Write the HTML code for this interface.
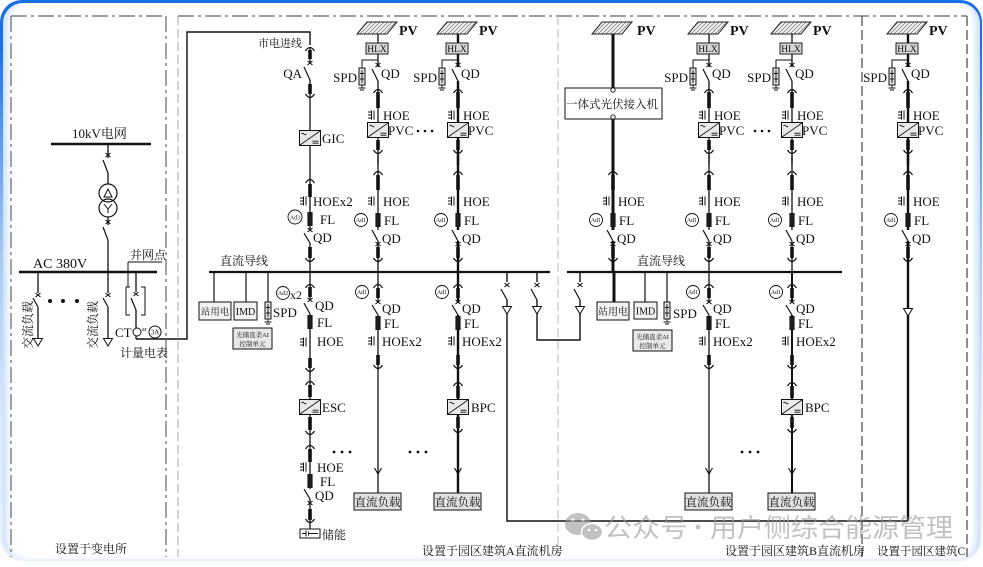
<!DOCTYPE html>
<html><head><meta charset="utf-8"><title>diagram</title>
<style>
html,body{margin:0;padding:0;background:#fff}
body{width:983px;height:567px;position:relative;overflow:hidden}
.card{position:absolute;left:0;top:0;width:982px;height:561px;border-radius:22px;background:linear-gradient(180deg,#1b6fe4 0,#1b6fe4 45px,#4f93ec 120px,#a9cbf6 260px,#d9e8fb 420px,#eaf2fd 561px)}
.inner{position:absolute;left:2.5px;top:3px;right:2.5px;bottom:2px;border-radius:20px;background:#fff;box-shadow:inset 8px 0 8px -5px rgba(150,190,240,.6),inset -8px 0 8px -5px rgba(150,190,240,.6)}
svg{position:absolute;left:0;top:0}
.t{font-family:"Liberation Serif",serif;font-size:13px;fill:#111}
.c{font-family:"Liberation Serif","Noto Serif CJK SC",serif;font-size:12px;fill:#111}
</style></head><body>
<div class="card"><div class="inner"></div></div>
<svg width="983" height="567" viewBox="0 0 983 567">
<defs>
<pattern id="hatch" width="4" height="4" patternUnits="userSpaceOnUse"><rect width="4" height="4" fill="#ececec"/><path d="M0,4 L4,0" stroke="#666" stroke-width="0.6"/></pattern>
<path id="cap" d="M-4.5,3 Q0,-4 4.5,3" fill="none" stroke="#111" stroke-width="1.2"/>
<path id="cup" d="M-4.5,-3 Q0,4 4.5,-3" fill="none" stroke="#111" stroke-width="1.2"/>
<path id="xm" d="M-2.5,-2 L2.5,2 M-2.5,2 L2.5,-2" fill="none" stroke="#111" stroke-width="1.1"/>
<path id="hoe" d="M-10,-3 H-6.5 M-10,0 H-6.5 M-10,3 H-6.5 M-6.5,-4.5 V4.5 M-4,-4.5 V4.5" fill="none" stroke="#111" stroke-width="1"/>
<rect id="fl" x="-2.6" y="-7" width="5.2" height="14" fill="#1c1c1c"/>
<g id="conv"><rect x="-10.5" y="-7.5" width="21" height="15" fill="#e9e9e9" stroke="#111" stroke-width="1"/><path d="M-10,7 L10,-7 M-8.5,-4 q1.2,-1.6 2.4,0 q1.2,1.6 2.4,0 M2.5,3.2 h6 M2.5,5.2 h6" fill="none" stroke="#111" stroke-width="0.8"/></g>
<g id="spd"><rect x="-3" y="0" width="6" height="17" fill="#e4e4e4" stroke="#111" stroke-width="1"/><path d="M0,2 V15 M-2,5.5 H2 M-2,11 H2 M0,17 V20 M-3.5,20 H3.5 M-2,22 H2" fill="none" stroke="#111" stroke-width="0.9"/></g>
<path id="arr" d="M-3.5,-6 L0,0 L3.5,-6" fill="none" stroke="#111" stroke-width="1.1"/>
<path id="tri" d="M-4.5,-3.5 H4.5 L0,4 Z" fill="#fff" stroke="#111" stroke-width="1"/>

<g id="pvTop">
 <path d="M0,34 V43 M0,54 V67 M0,81 V165" fill="none" stroke="#111"/>
 <path d="M0,92 V108 M0,140 V150" fill="none" stroke="#111" stroke-width="3.6"/>
 <polygon points="-21,34 9,34 19,22 -11,22" fill="url(#hatch)" stroke="#222" stroke-width="1"/>
 <text x="21" y="35" font-family="'Liberation Serif',serif" font-size="14" font-weight="bold" fill="#111">PV</text>
 <rect x="-12" y="43" width="22" height="11" fill="#d6d6d6" stroke="#222" stroke-width="1"/>
 <text x="-1" y="52" font-family="'Liberation Serif',serif" font-size="9.5" text-anchor="middle" fill="#111">HLX</text>
 <path d="M0,60 H-16 V68" fill="none" stroke="#111" stroke-width="1"/>
 <use href="#spd" x="-16" y="68"/>
 <text x="-21" y="82" font-family="'Liberation Serif',serif" font-size="13" text-anchor="end" fill="#111">SPD</text>
 <use href="#xm" x="0" y="65"/>
 <path d="M-6,69 L0,81" fill="none" stroke="#111" stroke-width="1.2"/>
 <text x="3" y="78" font-family="'Liberation Serif',serif" font-size="13" fill="#111">QD</text>
 <use href="#cap" x="0" y="90"/>
 <use href="#hoe" x="0" y="115"/>
 <text x="5" y="120" font-family="'Liberation Serif',serif" font-size="13" fill="#111">HOE</text>
 <use href="#conv" x="0" y="130"/>
 <text x="10" y="135" font-family="'Liberation Serif',serif" font-size="13" fill="#111">PVC</text>
 <use href="#cup" x="0" y="153"/>
</g>

<g id="low">
 <path d="M0,155 V230 M0,241 V272" fill="none" stroke="#111"/>
 <path d="M0,175 V190 M0,247 V258" fill="none" stroke="#111" stroke-width="3.6"/>
 <use href="#cap" x="0" y="172"/>
 <use href="#hoe" x="0" y="201"/>
 <text x="5" y="206" font-family="'Liberation Serif',serif" font-size="13" fill="#111">HOE</text>
 <use href="#fl" x="0" y="220"/>
 <text x="6" y="225" font-family="'Liberation Serif',serif" font-size="13" fill="#111">FL</text>
 <circle cx="-17" cy="220" r="6.5" fill="#fff" stroke="#111" stroke-width="0.9"/>
 <text x="-17" y="222.2" font-family="'Liberation Serif',serif" font-size="6" text-anchor="middle" fill="#111">Ad1</text>
 <path d="M-6,230 L0,241" fill="none" stroke="#111" stroke-width="1.2"/>
 <use href="#xm" x="0" y="244"/>
 <text x="4" y="243" font-family="'Liberation Serif',serif" font-size="13" fill="#111">QD</text>
 <use href="#cup" x="0" y="261"/>
</g>

<g id="dnL">
 <path d="M0,272 V303 M0,315 V493" fill="none" stroke="#111"/>
 <path d="M0,288 V298 M0,355 V365" fill="none" stroke="#111" stroke-width="3.6"/>
 <use href="#cap" x="0" y="285"/>
 <circle cx="-16" cy="292" r="6.5" fill="#fff" stroke="#111" stroke-width="0.9"/>
 <text x="-16" y="294.2" font-family="'Liberation Serif',serif" font-size="6" text-anchor="middle" fill="#111">Ad1</text>
 <use href="#xm" x="0" y="302"/>
 <path d="M-6,305 L0,315" fill="none" stroke="#111" stroke-width="1.2"/>
 <text x="4" y="313" font-family="'Liberation Serif',serif" font-size="13" fill="#111">QD</text>
 <use href="#fl" x="0" y="323"/>
 <text x="6" y="328" font-family="'Liberation Serif',serif" font-size="13" fill="#111">FL</text>
 <use href="#hoe" x="0" y="341"/>
 <text x="4" y="346" font-family="'Liberation Serif',serif" font-size="13" fill="#111">HOEx2</text>
 <use href="#cup" x="0" y="368"/>
 <use href="#arr" x="0" y="474"/>
 <rect x="-24" y="493" width="47" height="17" fill="#e2e2e2" stroke="#111" stroke-width="1"/>
 <text x="-0.5" y="506" font-family="'Liberation Serif','Noto Serif CJK SC',serif" font-size="11.5" text-anchor="middle" fill="#111">直流负载</text>
</g>

<g id="bpc">
 <path d="M0,386 V398 M0,417 V428" fill="none" stroke="#111" stroke-width="3.6"/>
 <use href="#cap" x="0" y="383"/>
 <use href="#conv" x="0" y="407"/>
 <text x="13" y="412" font-family="'Liberation Serif',serif" font-size="13" fill="#111">BPC</text>
 <use href="#cup" x="0" y="432"/>
</g>
</defs>

<!-- dashed frames -->
<g fill="none" stroke="#666" stroke-width="1.2" stroke-dasharray="16 4 3 4">
 <path d="M11,16 H166"/>
 <path d="M178,16 H967"/>
 <path d="M11,16 V557"/>
 <path d="M166,16 V557"/>
</g>
<path d="M178,16 V557" fill="none" stroke="#aaa" stroke-width="1" stroke-dasharray="9 4"/>
<path d="M558,16 V557" fill="none" stroke="#bbb" stroke-width="1" stroke-dasharray="9 4"/>
<path d="M862,16 V557" fill="none" stroke="#555" stroke-width="1.3" stroke-dasharray="10 4"/>
<path d="M967,16 V557" fill="none" stroke="#555" stroke-width="1.3" stroke-dasharray="10 4"/>

<!-- ===== Substation ===== -->
<text class="c" x="72" y="138" style="font-size:13px">10kV电网</text>
<path d="M51,144 H151" stroke="#111" stroke-width="2.4"/>
<path d="M108,144 V158 M108,173 V184 M108,217 V225 M108,240 V272" fill="none" stroke="#111" stroke-width="1.3"/>
<use href="#xm" x="108" y="155"/>
<path d="M103,160 L108,173" stroke="#111" stroke-width="1.2"/>
<circle cx="108" cy="193" r="9" fill="#fff" stroke="#111" stroke-width="1.2"/>
<circle cx="108" cy="208" r="9" fill="none" stroke="#111" stroke-width="1.2"/>
<path d="M104,197 L108,189 L112,197 Z" fill="none" stroke="#111" stroke-width="1"/>
<path d="M104,204 L108,209 L112,204 M108,209 V213" fill="none" stroke="#111" stroke-width="1"/>
<use href="#xm" x="108" y="222"/>
<path d="M103,227 L108,240" stroke="#111" stroke-width="1.2"/>
<text class="t" x="33" y="268" style="font-size:14px">AC 380V</text>
<path d="M19,272 H157" stroke="#111" stroke-width="2.4"/>
<text class="c" x="130" y="259">并网点</text>
<path d="M128,262 H162 M128,262 V287" fill="none" stroke="#111" stroke-width="1"/>
<!-- feeders -->
<path d="M38,272 V293 M38,307 V345 M108,272 V293 M108,307 V345" fill="none" stroke="#111" stroke-width="1.3"/>
<use href="#xm" x="38" y="295"/><use href="#xm" x="108" y="295"/>
<path d="M33,298 L38,307 M103,298 L108,307" stroke="#111" stroke-width="1.2"/>
<use href="#tri" x="38" y="342"/><use href="#tri" x="108" y="342"/>
<text class="c" transform="translate(32,325) rotate(-90)" text-anchor="middle">交流负载</text>
<text class="c" transform="translate(97,325) rotate(-90)" text-anchor="middle">交流负载</text>
<circle cx="50" cy="301" r="2" fill="#111"/><circle cx="63" cy="301" r="2" fill="#111"/><circle cx="77" cy="301" r="2" fill="#111"/>
<!-- CT -->
<path d="M130,287 H126 V315 H130 M141,287 H145 V315 H141" fill="none" stroke="#111" stroke-width="1"/>
<path d="M136,272 V292 M136,310 V339" fill="none" stroke="#111" stroke-width="1.3"/>
<use href="#xm" x="136" y="294"/>
<path d="M131,298 L136,310" stroke="#111" stroke-width="1.2"/>
<text class="t" x="115" y="337">CT</text>
<circle cx="137" cy="332" r="4" fill="#fff" stroke="#111" stroke-width="1"/>
<text class="t" x="142" y="331" style="font-size:6px">ar</text>
<circle cx="155" cy="332" r="6" fill="#fff" stroke="#111" stroke-width="1"/>
<text class="t" x="155" y="334.5" text-anchor="middle" style="font-size:7px">3A</text>
<text class="c" x="120" y="357">计量电表</text>
<text class="c" x="55" y="553">设置于变电所</text>

<!-- ===== Building A ===== -->
<path d="M136,339 H187 V32 H310 V45" fill="none" stroke="#111" stroke-width="1.4"/>
<text class="c" x="258" y="47" style="font-size:11px">市电进线</text>
<path d="M310,48 V63 M310,80 V230 M310,243 V272" fill="none" stroke="#111" stroke-width="1.3"/>
<path d="M310,50 V59 M310,84 V94 M310,184 V197 M310,247 V258" fill="none" stroke="#111" stroke-width="3.6"/>
<use href="#cap" x="310" y="48"/>
<use href="#xm" x="310" y="63"/>
<path d="M304,67 L310,80" stroke="#111" stroke-width="1.2"/>
<text class="t" x="302" y="78" text-anchor="end">QA</text>
<use href="#cup" x="310" y="97"/>
<use href="#conv" x="310" y="138"/>
<text class="t" x="322" y="143">GIC</text>
<use href="#cap" x="310" y="180"/>
<use href="#hoe" x="310" y="201"/>
<text class="t" x="313" y="206">HOEx2</text>
<use href="#fl" x="310" y="219"/>
<text class="t" x="320" y="224">FL</text>
<circle cx="295" cy="217" r="7" fill="#fff" stroke="#111" stroke-width="0.9"/>
<text class="t" x="295" y="219.3" text-anchor="middle" style="font-size:6px">Ad3</text>
<use href="#xm" x="310" y="230"/>
<path d="M304,233 L310,243" stroke="#111" stroke-width="1.2"/>
<text class="t" x="313" y="242">QD</text>
<use href="#cup" x="310" y="261"/>

<text class="c" x="220" y="265">直流导线</text>
<path d="M209,272 H550" stroke="#111" stroke-width="2.2"/>

<!-- station loads A -->
<path d="M214,272 V302 M246,272 V302 M268,272 V302" fill="none" stroke="#111" stroke-width="1.2"/>
<rect x="199" y="302" width="32" height="18" fill="#f2f2f2" stroke="#111" stroke-width="1"/>
<text class="c" x="215" y="315" text-anchor="middle" style="font-size:9.5px">站用电</text>
<rect x="234" y="302" width="23" height="18" fill="#f2f2f2" stroke="#111" stroke-width="1"/>
<text class="t" x="245.5" y="315" text-anchor="middle" style="font-size:10px">IMD</text>
<use href="#spd" x="268" y="302"/>
<text class="t" x="273" y="317">SPD</text>
<rect x="233" y="328" width="39" height="21" fill="#e8e8e8" stroke="#111" stroke-width="1"/>
<text class="c" x="252.5" y="337" text-anchor="middle" style="font-size:6.5px">光储直柔AI</text>
<text class="c" x="252.5" y="346" text-anchor="middle" style="font-size:6.5px">控制单元</text>

<!-- 310 below bus -->
<path d="M310,272 V300 M310,314 V489 M310,499 V529" fill="none" stroke="#111" stroke-width="1.3"/>
<path d="M310,287 V297 M310,358 V368 M310,385 V397 M310,417 V430 M310,449 V462 M310,509 V520" fill="none" stroke="#111" stroke-width="3.6"/>
<use href="#cap" x="310" y="285"/>
<circle cx="283" cy="293" r="6.5" fill="#fff" stroke="#111" stroke-width="0.9"/>
<text class="t" x="283" y="295.2" text-anchor="middle" style="font-size:6px">Ad2</text>
<text class="t" x="290" y="299" style="font-size:12px">x2</text>
<use href="#xm" x="310" y="300"/>
<path d="M304,303 L310,314" stroke="#111" stroke-width="1.2"/>
<text class="t" x="315" y="310">QD</text>
<use href="#fl" x="310" y="322"/>
<text class="t" x="317" y="327">FL</text>
<use href="#hoe" x="310" y="342"/>
<text class="t" x="317" y="346">HOE</text>
<use href="#cup" x="310" y="371"/>
<use href="#cap" x="310" y="382"/>
<use href="#conv" x="310" y="407"/>
<text class="t" x="322" y="412">ESC</text>
<use href="#cup" x="310" y="434"/>
<use href="#cap" x="310" y="446"/>
<use href="#hoe" x="310" y="467"/>
<text class="t" x="317" y="472">HOE</text>
<use href="#fl" x="310" y="481"/>
<text class="t" x="320" y="486">FL</text>
<path d="M304,489 L310,499" stroke="#111" stroke-width="1.2"/>
<text class="t" x="315" y="500">QD</text>
<use href="#xm" x="310" y="503"/>
<use href="#cup" x="310" y="522"/>
<rect x="300" y="529" width="20" height="9" fill="#fff" stroke="#111" stroke-width="1"/>
<path d="M302,533.5 H306 M306,530.5 V536.5 M308.5,531.5 V535.5 M308.5,533.5 H318" fill="none" stroke="#111" stroke-width="1"/>
<text class="c" x="322" y="539">储能</text>
<circle cx="334" cy="452" r="1.4" fill="#111"/><circle cx="342" cy="452" r="1.4" fill="#111"/><circle cx="350" cy="452" r="1.4" fill="#111"/>

<!-- PV columns A -->
<use href="#pvTop" x="378" stroke-width="1.3"/>
<use href="#low" x="378" stroke-width="1.3"/>
<use href="#pvTop" x="458" stroke-width="2.4"/>
<use href="#low" x="458" stroke-width="2.4"/>
<circle cx="418" cy="131" r="1.3" fill="#111"/><circle cx="425" cy="131" r="1.3" fill="#111"/><circle cx="432" cy="131" r="1.3" fill="#111"/>
<use href="#dnL" x="378" stroke-width="1.3"/>
<use href="#dnL" x="458" stroke-width="2.4"/>
<use href="#bpc" x="458"/>
<circle cx="410" cy="452" r="1.4" fill="#111"/><circle cx="418" cy="452" r="1.4" fill="#111"/><circle cx="426" cy="452" r="1.4" fill="#111"/>

<!-- tie switches -->
<path d="M507,272 V282 M507,300 V521 H908" fill="none" stroke="#111" stroke-width="1.4"/>
<use href="#xm" x="507" y="285"/>
<path d="M501,289 L507,300" stroke="#111" stroke-width="1.2"/>
<use href="#tri" x="507" y="310"/>
<path d="M537,272 V282 M537,300 V340 H580 V300 M580,282 V272" fill="none" stroke="#111" stroke-width="1.4"/>
<use href="#xm" x="537" y="285"/>
<path d="M531,289 L537,300" stroke="#111" stroke-width="1.2"/>
<use href="#tri" x="537" y="310"/>
<use href="#xm" x="580" y="285"/>
<path d="M574,289 L580,300" stroke="#111" stroke-width="1.2"/>
<use href="#tri" x="580" y="310"/>

<text class="c" x="422" y="555">设置于园区建筑A直流机房</text>

<!-- ===== Building B ===== -->
<polygon points="592,34 622,34 632,22 602,22" fill="url(#hatch)" stroke="#222" stroke-width="1"/>
<text class="t" x="637" y="35" style="font-size:14px;font-weight:bold">PV</text>
<path d="M613,34 V88 M613,119 V160" fill="none" stroke="#111" stroke-width="3"/>
<rect x="565" y="88" width="97" height="31" fill="#fff" stroke="#111" stroke-width="1"/>
<text class="c" x="612" y="108" text-anchor="middle" style="font-size:11.5px">一体式光伏接入机</text>
<circle cx="613" cy="90" r="2.2" fill="#fff" stroke="#111" stroke-width="0.9"/>
<circle cx="613" cy="117" r="2.2" fill="#fff" stroke="#111" stroke-width="0.9"/>
<use href="#low" x="613" stroke-width="3"/>

<use href="#pvTop" x="709" stroke-width="1.3"/>
<use href="#low" x="709" stroke-width="1.3"/>
<use href="#pvTop" x="792" stroke-width="1.3"/>
<use href="#low" x="792" stroke-width="1.3"/>
<circle cx="755" cy="131" r="1.3" fill="#111"/><circle cx="762" cy="131" r="1.3" fill="#111"/><circle cx="769" cy="131" r="1.3" fill="#111"/>

<text class="c" x="637" y="265">直流导线</text>
<path d="M567,272 H842" stroke="#111" stroke-width="2.2"/>

<path d="M614,272 V302" stroke="#111" stroke-width="3"/>
<path d="M645,272 V302 M667,272 V302" fill="none" stroke="#111" stroke-width="1.2"/>
<rect x="597" y="302" width="32" height="18" fill="#f2f2f2" stroke="#111" stroke-width="1"/>
<text class="c" x="613" y="315" text-anchor="middle" style="font-size:10px">站用电</text>
<rect x="634" y="302" width="23" height="17" fill="#f2f2f2" stroke="#111" stroke-width="1"/>
<text class="t" x="645.5" y="314.5" text-anchor="middle" style="font-size:10px">IMD</text>
<use href="#spd" x="667" y="302"/>
<text class="t" x="673" y="318">SPD</text>
<rect x="633" y="330" width="39" height="21" fill="#e8e8e8" stroke="#111" stroke-width="1"/>
<text class="c" x="652.5" y="339" text-anchor="middle" style="font-size:6.5px">光储直柔AI</text>
<text class="c" x="652.5" y="348" text-anchor="middle" style="font-size:6.5px">控制单元</text>

<use href="#dnL" x="709" stroke-width="1.3"/>
<use href="#dnL" x="792" stroke-width="2"/>
<use href="#bpc" x="792"/>
<circle cx="742" cy="452" r="1.4" fill="#111"/><circle cx="750" cy="452" r="1.4" fill="#111"/><circle cx="758" cy="452" r="1.4" fill="#111"/>

<text class="c" x="725" y="555">设置于园区建筑B直流机房</text>

<!-- ===== Building C ===== -->
<use href="#pvTop" x="908" stroke-width="2.4"/>
<use href="#low" x="908" stroke-width="2.4"/>
<path d="M908,272 V521" stroke="#111" stroke-width="2.4"/>
<use href="#tri" x="908" y="312"/>
<text class="c" x="877" y="555" style="font-size:11.5px">设置于园区建筑C</text>

<!-- watermark -->
<g opacity="0.6">
 <ellipse cx="578" cy="524" rx="13" ry="11" fill="#999"/>
 <ellipse cx="592" cy="532" rx="10.5" ry="8.5" fill="#999" stroke="#fff" stroke-width="1.5"/>
 <circle cx="573" cy="520" r="1.6" fill="#fff"/><circle cx="583" cy="520" r="1.6" fill="#fff"/>
 <circle cx="589" cy="530" r="1.3" fill="#fff"/><circle cx="596" cy="530" r="1.3" fill="#fff"/>
 <text x="604" y="537" font-family="'Noto Sans CJK SC',sans-serif" font-size="26" fill="#999" textLength="84" lengthAdjust="spacingAndGlyphs">公众号</text>
 <circle cx="698" cy="527" r="2.4" fill="#999"/>
 <text x="710" y="537" font-family="'Noto Sans CJK SC',sans-serif" font-size="26" fill="#999" textLength="243" lengthAdjust="spacingAndGlyphs">用户侧综合能源管理</text>
</g>
</svg>
</body></html>
